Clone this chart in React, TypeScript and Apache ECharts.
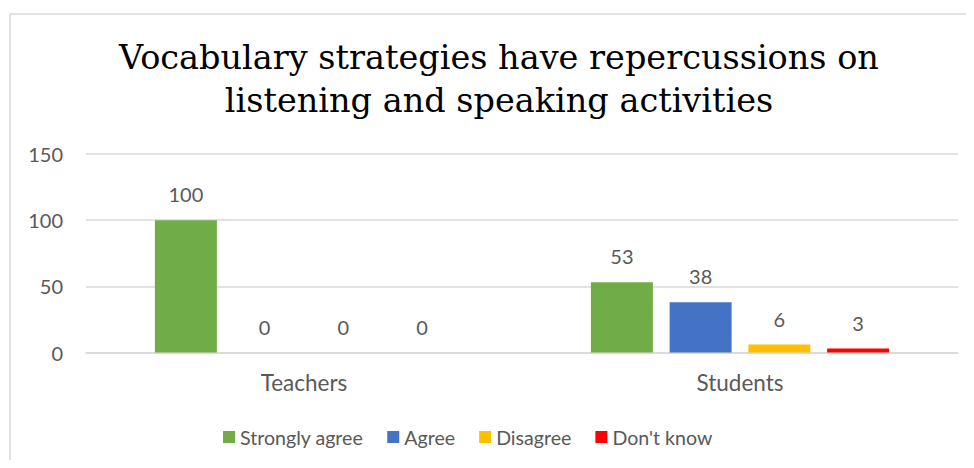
import React, { useEffect, useRef } from "react";
import * as echarts from "echarts";

const titleLines = ["Vocabulary strategies have repercussions on", "listening and speaking activities"];
const categories = ["Teachers", "Students"];
const seriesNames = ["Strongly agree", "Agree", "Disagree", "Don't know"];
const stronglyAgree = [100, 53];
const agree = [0, 38];
const disagree = [0, 6];
const dontKnow = [0, 3];
const colors = ["#70AD47", "#4472C4", "#FFC000", "#FF0000"];
const yMin = 0;
const yMax = 150;
const yInterval = 50;

const FONT = "Lato, 'Open Sans', sans-serif";
const TXT = "#595959";

export default function App() {
  const ref = useRef<HTMLDivElement>(null);
  useEffect(() => {
    if (!ref.current) return;
    const chart = echarts.init(ref.current, null, { renderer: "svg" });
    const values = [stronglyAgree, agree, disagree, dontKnow];
    chart.setOption({
      animation: false,
      backgroundColor: "#ffffff",
      title: {
        text: titleLines.join("\n"),
        left: 499,
        textAlign: "center",
        top: 36,
        padding: 0,
        textStyle: {
          fontFamily: "'DejaVu Serif', serif",
          fontWeight: "normal",
          fontSize: 33.5,
          lineHeight: 43,
          color: "#000000",
        },
      },
      graphic: [
        {
          type: "rect",
          shape: { x: 10, y: 14, width: 1000, height: 500 },
          style: { fill: "none", stroke: "#d9d9d9", lineWidth: 1.5 },
          silent: true,
          z: -1,
        },
      ],
      legend: {
        left: 223,
        top: 427,
        padding: 0,
        itemWidth: 12,
        itemHeight: 12,
        itemGap: 24,
        icon: "rect",
        textStyle: { fontFamily: FONT, fontSize: 19.6, color: TXT },
        data: seriesNames,
      },
      grid: { left: 86, right: 16, top: 154, bottom: 468 - 352.5 },
      xAxis: {
        type: "category",
        data: categories,
        axisLine: { lineStyle: { color: "#d9d9d9", width: 1.5 } },
        axisTick: { show: false },
        axisLabel: { fontFamily: FONT, fontSize: 22.5, color: TXT, margin: 18 },
      },
      yAxis: {
        type: "value",
        min: yMin,
        max: yMax,
        interval: yInterval,
        axisLine: { show: false },
        axisTick: { show: false },
        splitLine: { lineStyle: { color: "#d9d9d9", width: 1.5 } },
        axisLabel: { fontFamily: FONT, fontSize: 20, color: TXT, margin: 23 },
      },
      series: seriesNames.map((name, i) => ({
        name,
        type: "bar",
        data: values[i],
        barWidth: 62,
        barGap: "27%",
        itemStyle: { color: colors[i] },
        label: {
          show: true,
          position: "top",
          distance: 16,
          fontFamily: FONT,
          fontSize: 20,
          color: TXT,
        },
      })),
    });
    return () => chart.dispose();
  }, []);
  return <div ref={ref} style={{ width: 974, height: 468, margin: -8 }} />;
}
